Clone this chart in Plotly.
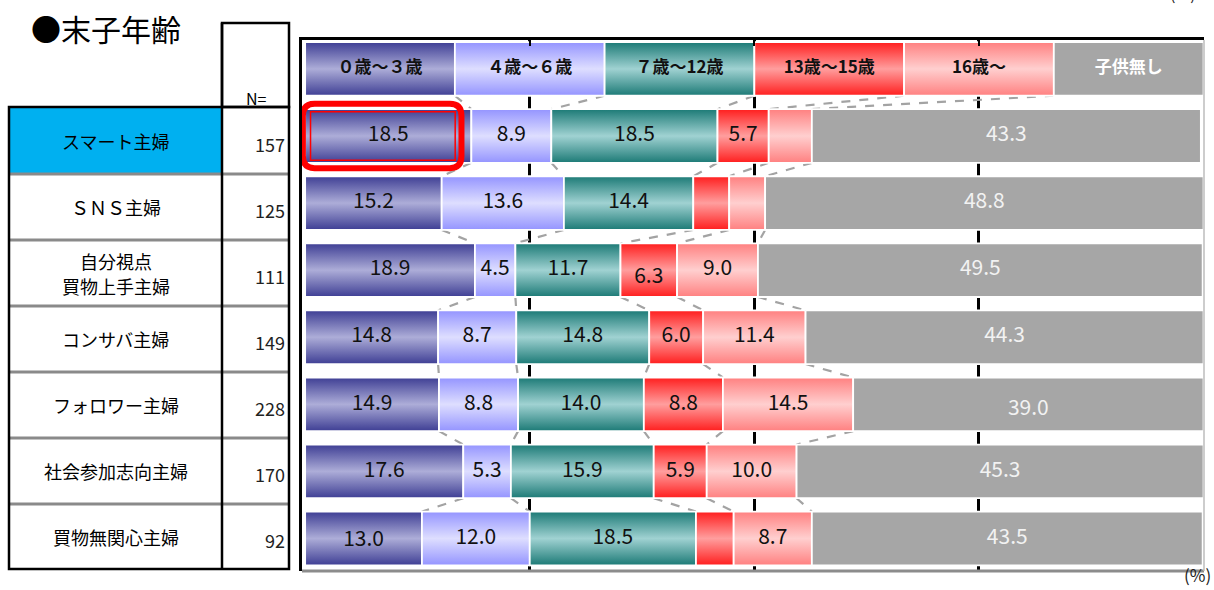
import plotly.graph_objects as go

# ---------------- data ----------------
categories = ["スマート主婦", "ＳＮＳ主婦", "自分視点<br>買物上手主婦", "コンサバ主婦",
              "フォロワー主婦", "社会参加志向主婦", "買物無関心主婦"]
n_values = [157, 125, 111, 149, 228, 170, 92]
series_names = ["０歳～３歳", "４歳～６歳", "７歳～12歳", "13歳～15歳", "16歳～", "子供無し"]

age_0_3 = [18.5, 15.2, 18.9, 14.8, 14.9, 17.6, 13.0]
age_4_6 = [8.9, 13.6, 4.5, 8.7, 8.8, 5.3, 12.0]
age_7_12 = [18.5, 14.4, 11.7, 14.8, 14.0, 15.9, 18.5]
age_13_15 = [5.7, 4.0, 6.3, 6.0, 8.8, 5.9, 4.2]
age_16_up = [4.8, 4.0, 9.0, 11.4, 14.5, 10.0, 8.7]
no_child = [43.3, 48.8, 49.5, 44.3, 39.0, 45.3, 43.5]
series_values = [age_0_3, age_4_6, age_7_12, age_13_15, age_16_up, no_child]

# (row, series) pairs whose data label is not printed in the original
hidden_labels = [(0, 4), (1, 3), (1, 4), (6, 3)]
# header (legend) row: equal-width boxes
legend_weights = [1, 1, 1, 1, 1, 1]

# ---------------- style ----------------
W, H = 1214, 590
ML, MR, MT, MB = 302, 10, 40, 19
edge_colors = ["#3E3E94", "#9494FF", "#1C7A76", "#FF1E1E", "#FF8080", "#A6A6A6"]
mid_colors = ["#ADADD8", "#DEDEFF", "#A0D2D2", "#FF9E9E", "#FFCFCF", "#A6A6A6"]
label_colors = ["#111111"] * 5 + ["#F2F2F2"]
header_font_colors = ["#111111"] * 5 + ["#FFFFFF"]
label_dy = {(2, 3): 0.12, (4, 5): 0.08, (6, 0): 0.04}
BAR_H = 0.40
Y_RANGE = [7.485, -0.431]
JP = "Noto Sans CJK JP"

fig = go.Figure()

# rows: 0 = header/legend, 1..7 = categories
legend_total = sum(legend_weights)
rows = [[w * 100.0 / legend_total for w in legend_weights]]
for i in range(len(categories)):
    rows.append([s[i] for s in series_values])

cums = []
for vals in rows:
    c = [0.0]
    for v in vals:
        c.append(c[-1] + v)
    cums.append(c)

# dashed connector ("series") lines between consecutive rows
cx, cy = [], []
for r in range(len(rows) - 1):
    for k in range(1, len(series_names)):
        cx += [cums[r][k], cums[r + 1][k], None]
        cy += [r + BAR_H, r + 1 - BAR_H, None]
fig.add_trace(go.Scatter(x=cx, y=cy, mode="lines",
                         line=dict(color="#A3A3A3", width=2.2, dash="dash"),
                         hoverinfo="skip", showlegend=False))

# bars with vertical gradients
for r, vals in enumerate(rows):
    for s, v in enumerate(vals):
        x0, x1 = cums[r][s], cums[r][s + 1]
        y0, y1 = r - BAR_H, r + BAR_H
        kw = dict(x=[x0, x1, x1, x0, x0], y=[y0, y0, y1, y1, y0], mode="lines",
                  fill="toself", line=dict(color="white", width=1.8),
                  hoverinfo="skip", showlegend=False)
        if edge_colors[s] != mid_colors[s]:
            kw["fillgradient"] = dict(type="vertical", start=y0, stop=y1,
                                      colorscale=[[0, edge_colors[s]], [0.5, mid_colors[s]],
                                                  [1, edge_colors[s]]])
        else:
            kw["fillcolor"] = edge_colors[s]
        fig.add_trace(go.Scatter(**kw))

# header (legend) texts
fig.add_trace(go.Scatter(
    x=[(cums[0][s] + cums[0][s + 1]) / 2 for s in range(len(series_names))],
    y=[0] * len(series_names), mode="text", text=series_names,
    textfont=dict(family=JP, size=17, color=header_font_colors, weight="bold"),
    hoverinfo="skip", showlegend=False))

# data labels
for s in range(len(series_names)):
    xs, ys, ts = [], [], []
    for i in range(len(categories)):
        if (i, s) in hidden_labels:
            continue
        r = i + 1
        xs.append((cums[r][s] + cums[r][s + 1]) / 2)
        ys.append(r + label_dy.get((i, s), 0))
        ts.append(f"{series_values[s][i]:.1f}")
    fig.add_trace(go.Scatter(x=xs, y=ys, mode="text", text=ts,
                             textfont=dict(family=JP, size=21, color=label_colors[s]),
                             hoverinfo="skip", showlegend=False))

# ---------------- helpers for paper coordinates ----------------
PW, PH = W - ML - MR, H - MT - MB


def px(xp):
    return (xp - ML) / PW


def py(yp):
    return (H - MB - yp) / PH


shapes = []
# highlight around first cell of row 1
r = 1
hx0, hx1 = -0.25, age_0_3[0] - 1.1
hy0, hy1 = r - 0.48, r + 0.48
rx, ry = 1.3, 0.18
path = (f"M {hx0+rx},{hy0} L {hx1-rx},{hy0} Q {hx1},{hy0} {hx1},{hy0+ry} "
        f"L {hx1},{hy1-ry} Q {hx1},{hy1} {hx1-rx},{hy1} L {hx0+rx},{hy1} "
        f"Q {hx0},{hy1} {hx0},{hy1-ry} L {hx0},{hy0+ry} Q {hx0},{hy0} {hx0+rx},{hy0} Z")
shapes.append(dict(type="path", path=path, xref="x", yref="y",
                   line=dict(color="#FF0000", width=6), layer="above"))
shapes.append(dict(type="rect", xref="x", yref="y", x0=0.6, x1=hx1 - 0.7,
                   y0=r - 0.36, y1=r + 0.36, line=dict(color="#FF0000", width=1.5),
                   layer="above"))

# plot frame (bottom grey, right grey)
shapes.append(dict(type="line", xref="paper", yref="paper", x0=0, x1=1, y0=0, y1=0,
                   line=dict(color="#8C8C8C", width=3)))
shapes.append(dict(type="line", xref="paper", yref="paper", x0=1, x1=1, y0=0, y1=1,
                   line=dict(color="#BDBDBD", width=1.5)))

# left table
TL, TM, TR = 9, 222, 289
row_edges = [107, 174, 240, 306, 372, 438, 504, 569]
shapes.append(dict(type="rect", xref="paper", yref="paper", x0=px(TL), x1=px(TM),
                   y0=py(row_edges[1]), y1=py(row_edges[0]),
                   fillcolor="#00B0F0", line=dict(width=0), layer="below"))
for e in row_edges[1:-1]:
    shapes.append(dict(type="line", xref="paper", yref="paper", x0=px(TL), x1=px(TR),
                       y0=py(e), y1=py(e), line=dict(color="#8A8A8A", width=3)))
shapes.append(dict(type="rect", xref="paper", yref="paper", x0=px(TL), x1=px(TR),
                   y0=py(row_edges[-1]), y1=py(row_edges[0]),
                   line=dict(color="black", width=2.5)))
shapes.append(dict(type="rect", xref="paper", yref="paper", x0=px(TM), x1=px(TR),
                   y0=py(row_edges[0]), y1=py(23), line=dict(color="black", width=2.5)))
shapes.append(dict(type="line", xref="paper", yref="paper", x0=px(TM), x1=px(TM),
                   y0=py(row_edges[-1]), y1=py(23), line=dict(color="black", width=2.5)))

annotations = []
annotations.append(dict(x=px(29), y=py(28), xref="paper", yref="paper", xanchor="left",
                        yanchor="middle", text="●末子年齢", showarrow=False,
                        font=dict(family=JP, size=30, color="black")))
annotations.append(dict(x=px(256), y=py(98), xref="paper", yref="paper", xanchor="center",
                        yanchor="middle", text="N=", showarrow=False,
                        font=dict(family=JP, size=16, color="black")))
LINE_STEP = 25
for i, (cat, n) in enumerate(zip(categories, n_values)):
    top, bot = row_edges[i], row_edges[i + 1]
    mid = (top + bot) / 2
    parts = cat.split("<br>")
    for j, part in enumerate(parts):
        yline = mid + (j - (len(parts) - 1) / 2) * LINE_STEP
        annotations.append(dict(x=px((TL + TM) / 2), y=py(yline), xref="paper", yref="paper",
                                xanchor="center", yanchor="middle", text=part,
                                showarrow=False, font=dict(family=JP, size=18, color="black")))
    annotations.append(dict(x=px(287), y=py(mid + 3), xref="paper", yref="paper",
                            xanchor="right", yanchor="middle", text=str(n), showarrow=False,
                            font=dict(family=JP, size=18, color="#222222")))
annotations.append(dict(x=px(1213), y=py(589), xref="paper", yref="paper", xanchor="right",
                        yanchor="bottom", text="(%)", showarrow=False,
                        font=dict(family=JP, size=17, color="#222222")))
annotations.append(dict(x=px(1198), y=py(-7), xref="paper", yref="paper", xanchor="right",
                        yanchor="middle", text="(%)", showarrow=False,
                        font=dict(family=JP, size=16, color="#222222")))

fig.update_layout(
    width=W, height=H, margin=dict(l=ML, r=MR, t=MT, b=MB, autoexpand=False),
    paper_bgcolor="white", plot_bgcolor="white",
    showlegend=False, shapes=shapes, annotations=annotations,
    xaxis=dict(range=[-0.35, 100.05], side="top", showline=True, linecolor="black",
               linewidth=3, ticks="inside", ticklen=6, tickwidth=2, tickcolor="black",
               tickvals=[25, 50, 75], showticklabels=False, showgrid=True,
               gridcolor="black", gridwidth=2.5, zeroline=False, fixedrange=True),
    yaxis=dict(range=Y_RANGE, showline=True, linecolor="black", linewidth=3,
               showticklabels=False, showgrid=False, zeroline=False, ticks="",
               fixedrange=True),
)

fig.write_html("out.html", config={"displayModeBar": False},
               post_script="document.body.style.margin='0';document.body.style.overflow='hidden';")
